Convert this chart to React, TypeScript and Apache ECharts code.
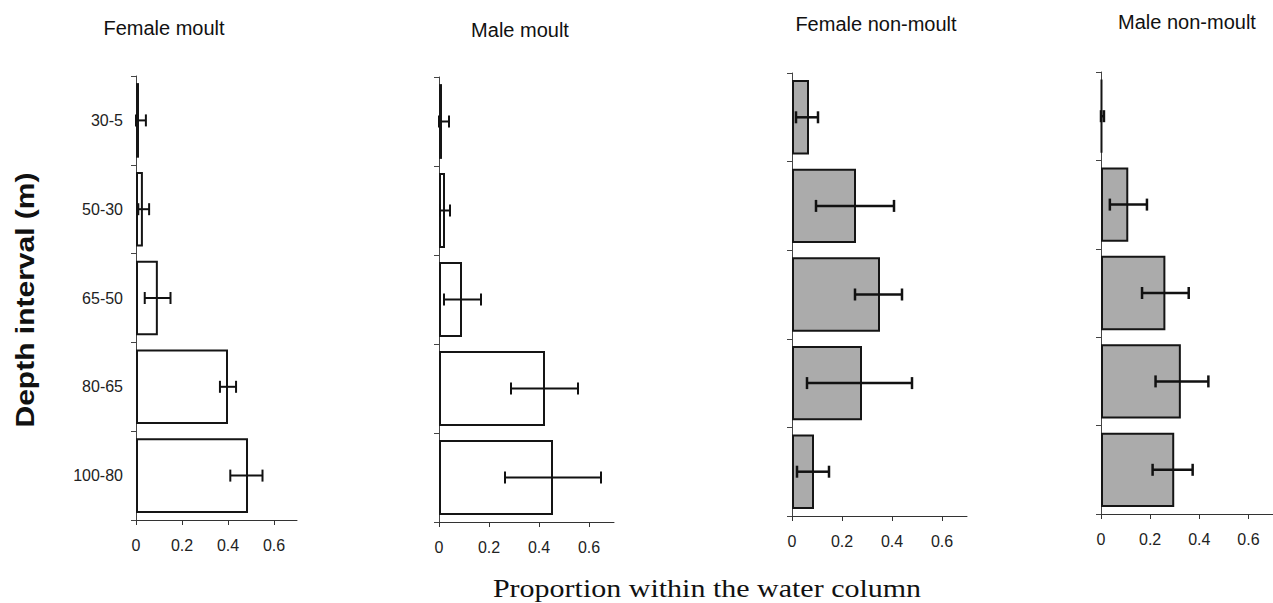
import React, { useEffect, useRef } from "react";
import * as echarts from "echarts";

const categories = ["30-5", "50-30", "65-50", "80-65", "100-80"];
const tickValues = [0, 0.2, 0.4, 0.6];
const panelTitles = ["Female moult", "Male moult", "Female non-moult", "Male non-moult"];

const femaleMoult = [0.013, 0.03, 0.095, 0.4, 0.487];
const femaleMoultLow = [0.0, 0.01, 0.038, 0.365, 0.41];
const femaleMoultHigh = [0.043, 0.057, 0.15, 0.435, 0.55];

const maleMoult = [0.012, 0.024, 0.092, 0.424, 0.456];
const maleMoultLow = [0.0, 0.004, 0.02, 0.288, 0.264];
const maleMoultHigh = [0.04, 0.044, 0.168, 0.556, 0.648];

const femaleNonMoult = [0.068, 0.256, 0.352, 0.28, 0.088];
const femaleNonMoultLow = [0.016, 0.096, 0.252, 0.06, 0.02];
const femaleNonMoultHigh = [0.104, 0.408, 0.44, 0.48, 0.148];

const maleNonMoult = [0.004, 0.111, 0.262, 0.325, 0.298];
const maleNonMoultLow = [0.0, 0.036, 0.167, 0.222, 0.21];
const maleNonMoultHigh = [0.012, 0.187, 0.357, 0.437, 0.373];

const panels = [
  { values: femaleMoult, low: femaleMoultLow, high: femaleMoultHigh, fill: "#ffffff", err: 2 },
  { values: maleMoult, low: maleMoultLow, high: maleMoultHigh, fill: "#ffffff", err: 2 },
  { values: femaleNonMoult, low: femaleNonMoultLow, high: femaleNonMoultHigh, fill: "#ababab", err: 2.5 },
  { values: maleNonMoult, low: maleNonMoultLow, high: maleNonMoultHigh, fill: "#ababab", err: 2.5 },
];

const grids = [
  { left: 136, top: 76, width: 161, height: 444 },
  { left: 439, top: 77, width: 175, height: 445 },
  { left: 792, top: 73, width: 175, height: 443 },
  { left: 1101, top: 72, width: 176, height: 442 },
];

const titlePos = [
  [164, 28],
  [520, 30],
  [876, 24],
  [1187, 22],
];

const SANS = "'Liberation Sans', Arial, Helvetica, sans-serif";
const SERIF = "'Liberation Serif', 'Times New Roman', serif";

export default function App() {
  const ref = useRef<HTMLDivElement>(null);

  useEffect(() => {
    if (!ref.current) return;
    const chart = echarts.init(ref.current, null, { renderer: "svg" });

    const xAxis = grids.map((_, i) => ({
      type: "value",
      gridIndex: i,
      min: 0,
      max: 0.7,
      axisLine: { show: true, lineStyle: { color: "#333", width: 1 } },
      axisTick: { show: true, length: 5, customValues: tickValues, lineStyle: { color: "#333" } },
      axisLabel: {
        customValues: tickValues,
        color: "#222",
        fontSize: 16,
        fontFamily: SANS,
        margin: 17,
        formatter: (v: number) => (v === 0 ? "0" : String(v)),
      },
      splitLine: { show: false },
    }));

    const yAxis = grids.map((_, i) => ({
      type: "category",
      gridIndex: i,
      data: categories,
      inverse: true,
      boundaryGap: true,
      axisLine: { show: true, lineStyle: { color: "#444", width: 1 } },
      axisTick: { show: true, length: 5, lineStyle: { color: "#444" } },
      axisLabel: {
        show: i === 0,
        color: "#222",
        fontSize: 16,
        fontFamily: SANS,
        margin: 13,
      },
      splitLine: { show: false },
    }));

    const series: any[] = [];
    panels.forEach((p, i) => {
      series.push({
        type: "bar",
        xAxisIndex: i,
        yAxisIndex: i,
        data: p.values,
        barCategoryGap: "16%",
        itemStyle: { color: p.fill, borderColor: "#151515", borderWidth: 2 },
        silent: true,
      });
      series.push({
        type: "custom",
        xAxisIndex: i,
        yAxisIndex: i,
        data: p.low.map((lo, k) => [lo, p.high[k], k]),
        encode: { x: [0, 1], y: 2 },
        z: 10,
        silent: true,
        renderItem: (params: any, api: any) => {
          const cat = api.value(2);
          const a = api.coord([api.value(0), cat]);
          const b = api.coord([api.value(1), cat]);
          const h = 6;
          const style = { stroke: "#111", lineWidth: p.err };
          return {
            type: "group",
            children: [
              { type: "line", shape: { x1: a[0], y1: a[1], x2: b[0], y2: b[1] }, style },
              { type: "line", shape: { x1: a[0], y1: a[1] - h, x2: a[0], y2: a[1] + h }, style },
              { type: "line", shape: { x1: b[0], y1: b[1] - h, x2: b[0], y2: b[1] + h }, style },
            ],
          };
        },
      });
    });

    const graphic: any[] = panelTitles.map((t, i) => ({
      type: "text",
      x: titlePos[i][0],
      y: titlePos[i][1],
      style: {
        text: t,
        fontSize: 20,
        fontFamily: SANS,
        fill: "#111",
        textAlign: "center",
        textVerticalAlign: "middle",
      },
    }));
    graphic.push({
      type: "text",
      x: 25,
      y: 300,
      rotation: Math.PI / 2,
      scaleX: 1.2,
      style: {
        text: "Depth interval (m)",
        fontSize: 25,
        fontWeight: "bold",
        fontFamily: SANS,
        fill: "#111",
        textAlign: "center",
        textVerticalAlign: "middle",
      },
    });
    graphic.push({
      type: "text",
      x: 707,
      y: 588,
      scaleX: 1.2,
      style: {
        text: "Proportion within the water column",
        fontSize: 25,
        fontFamily: SERIF,
        fill: "#111",
        textAlign: "center",
        textVerticalAlign: "middle",
      },
    });

    chart.setOption({
      animation: false,
      backgroundColor: "#ffffff",
      grid: grids.map((g) => ({ ...g, containLabel: false })),
      xAxis,
      yAxis,
      series,
      graphic,
    });

    return () => chart.dispose();
  }, []);

  return (
    <div
      ref={ref}
      style={{ position: "absolute", left: 0, top: 0, width: 1273, height: 603 }}
    />
  );
}
